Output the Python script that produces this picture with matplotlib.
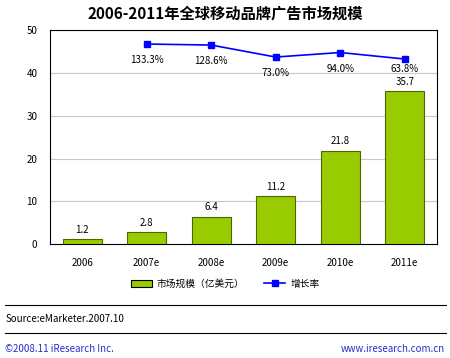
import matplotlib
matplotlib.use("Agg")
import matplotlib.pyplot as plt
from matplotlib.lines import Line2D
from matplotlib.patches import Patch

plt.rcParams["font.family"] = ["Noto Sans CJK SC", "DejaVu Sans"]

YEARS = ["2006", "2007e", "2008e", "2009e", "2010e", "2011e"]
MARKET = [1.2, 2.8, 6.4, 11.2, 21.8, 35.7]
GROWTH_YEARS = ["2007e", "2008e", "2009e", "2010e", "2011e"]
GROWTH = [133.3, 128.6, 73.0, 94.0, 63.8]

BAR_COLOR = "#99CC00"
BAR_EDGE = "#4d6600"
LINE_COLOR = "#0000FF"

fig = plt.figure(figsize=(4.5, 3.58), dpi=100)
ax = fig.add_axes([0.111, 0.318, 0.86, 0.598])

x = list(range(len(YEARS)))
ax.bar(x, MARKET, width=0.6, color=BAR_COLOR, edgecolor=BAR_EDGE,
       linewidth=0.8, zorder=3)
for xi, v in zip(x, MARKET):
    ax.text(xi, v + 2.2, f"{v:.1f}", ha="center", va="center", fontsize=7)

ax.set_xlim(-0.5, len(YEARS) - 0.5)
ax.set_ylim(0, 50)
ax.set_yticks([0, 10, 20, 30, 40, 50])
ax.set_xticks(x)
ax.set_xticklabels(YEARS)
ax.tick_params(axis="both", length=0, labelsize=7)
ax.tick_params(axis="y", pad=9)
ax.tick_params(axis="x", pad=10)
ax.yaxis.grid(True, color="#c8c8c8", linewidth=0.8, zorder=0)
ax.set_axisbelow(True)
for sp in ax.spines.values():
    sp.set_linewidth(0.8)
    sp.set_color("black")

# growth rate on a hidden secondary axis
ax2 = ax.twinx()
ax2.set_ylim(-794, 198)
gx = [YEARS.index(g) for g in GROWTH_YEARS]
ax2.plot(gx, GROWTH, color=LINE_COLOR, linewidth=1.2, marker="s",
         markersize=4, zorder=4)
for i, (xi, g) in enumerate(zip(gx, GROWTH)):
    off = 46 if i == len(GROWTH) - 1 else 76
    ax2.text(xi, g - off, f"{g:.1f}%", ha="center", va="center", fontsize=7)
ax2.set_yticks([])
for sp in ax2.spines.values():
    sp.set_visible(False)

fig.text(0.5, 0.962, "2006-2011年全球移动品牌广告市场规模", ha="center",
         va="center", fontsize=11, fontweight="bold")

handles = [
    Patch(facecolor=BAR_COLOR, edgecolor="black", linewidth=0.8),
    Line2D([], [], color=LINE_COLOR, linewidth=1.2, marker="s", markersize=4),
]
fig.legend(handles, ["市场规模（亿美元）", "增长率"], loc="center",
           bbox_to_anchor=(0.5, 0.207), ncol=2, frameon=False, fontsize=7,
           handlelength=2.2, handleheight=0.7, columnspacing=2.0,
           handletextpad=0.5)

fig.add_artist(Line2D([0.012, 0.99], [0.148, 0.148], color="black",
                      linewidth=0.8))
fig.add_artist(Line2D([0.012, 0.99], [0.070, 0.070], color="black",
                      linewidth=0.8))
fig.text(0.012, 0.109, "Source:eMarketer.2007.10", ha="left", va="center",
         fontsize=7)
fig.text(0.012, 0.025, "©2008.11 iResearch Inc.", ha="left", va="center",
         fontsize=7, color="#2b2bd0")
fig.text(0.988, 0.025, "www.iresearch.com.cn", ha="right", va="center",
         fontsize=7, color="#2b2bd0")

fig.savefig("out.png", dpi=100, facecolor="white")
